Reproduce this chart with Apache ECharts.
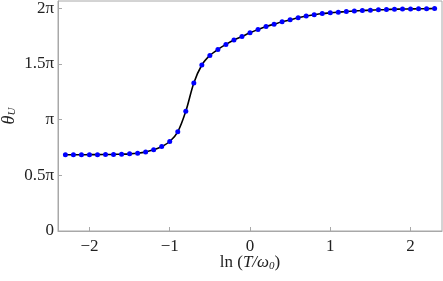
<!DOCTYPE html>
<html>
<head>
<meta charset="utf-8">
<script src="https://cdn.jsdelivr.net/npm/echarts@6/dist/echarts.min.js"></script>
<style>
html,body{margin:0;padding:0;background:#fff;}
#chart{width:443px;height:281px;}
</style>
</head>
<body>
<div id="chart"></div>
<script>
// ln(T/omega0)
var xValues = [-2.3,-2.2,-2.1,-2.0,-1.9,-1.8,-1.7,-1.6,-1.5,-1.4,-1.3,-1.2,-1.1,-1.0,-0.9,-0.8,-0.7,-0.6,-0.5,-0.4,-0.3,-0.2,-0.1,0.0,0.1,0.2,0.3,0.4,0.5,0.6,0.7,0.8,0.9,1.0,1.1,1.2,1.3,1.4,1.5,1.6,1.7,1.8,1.9,2.0,2.1,2.2,2.3];
// theta_U in units of pi
var thetaValues = [0.685,0.685,0.685,0.686,0.686,0.687,0.688,0.690,0.693,0.699,0.710,0.729,0.759,0.804,0.891,1.075,1.330,1.491,1.577,1.631,1.676,1.715,1.747,1.780,1.810,1.837,1.858,1.879,1.897,1.915,1.931,1.943,1.953,1.960,1.966,1.971,1.976,1.980,1.984,1.987,1.989,1.992,1.994,1.995,1.996,1.997,1.998];
var xTicks = [-2,-1,0,1,2];
var yTicks = [0,0.5,1,1.5,2];
var yTickLabels = ['0','0.5\u03c0','\u03c0','1.5\u03c0','2\u03c0'];

var pts = xValues.map(function(x,i){return [x, thetaValues[i]];});
var serif = '"Liberation Serif","DejaVu Serif",serif';
var frameColor = '#a8a8a8';
var chart = echarts.init(document.getElementById('chart'));
chart.setOption({
  animation:false,
  grid:{left:58,right:1,top:1,bottom:50,show:true,borderColor:frameColor,borderWidth:1,backgroundColor:'transparent',outerBoundsMode:'none',containLabel:false},
  xAxis:{
    type:'value', min:-2.392, max:2.392,
    axisLine:{show:true,onZero:false,lineStyle:{color:frameColor}},
    axisTick:{show:true,inside:true,length:4,lineStyle:{color:frameColor},customValues:xTicks},
    axisLabel:{customValues:xTicks,fontFamily:serif,fontSize:17,color:'#222',margin:7,
      formatter:function(v){return v<0?'\u2212'+Math.abs(v):String(v);}},
    splitLine:{show:false},
    name:'{n|ln (}{i|T/\u03c9}{s|0}{n|)}',
    nameLocation:'middle', nameGap:23, nameMoveOverlap:false,
    nameTextStyle:{rich:{
      n:{fontFamily:serif,fontSize:17,color:'#222'},
      i:{fontFamily:serif,fontSize:17,fontStyle:'italic',color:'#222'},
      s:{fontFamily:serif,fontSize:11,fontStyle:'italic',color:'#222',verticalAlign:'bottom',padding:[7,0,0,0]}
    }}
  },
  yAxis:{
    type:'value', min:0, max:2.066,
    axisLine:{show:true,onZero:false,lineStyle:{color:frameColor}},
    axisTick:{show:true,inside:true,length:4,lineStyle:{color:frameColor},customValues:yTicks},
    axisLabel:{customValues:yTicks,fontFamily:serif,fontSize:17,color:'#222',margin:4,
      formatter:function(v){var k=yTicks.indexOf(v);return k>=0?yTickLabels[k]:'';}},
    splitLine:{show:false},
    name:'{i|\u03b8}{s|U}',
    nameLocation:'middle', nameGap:40, nameMoveOverlap:false,
    nameTextStyle:{rich:{
      i:{fontFamily:serif,fontSize:18,fontStyle:'italic',color:'#222'},
      s:{fontFamily:serif,fontSize:11,fontStyle:'italic',color:'#222',verticalAlign:'bottom',padding:[7,0,0,0]}
    }}
  },
  series:[{
    type:'line', data:pts, smooth:0.3,
    lineStyle:{color:'#000',width:1.6},
    symbol:'circle', symbolSize:5,
    itemStyle:{color:'#0000ff'},
    z:3
  }]
});
</script>
</body>
</html>
